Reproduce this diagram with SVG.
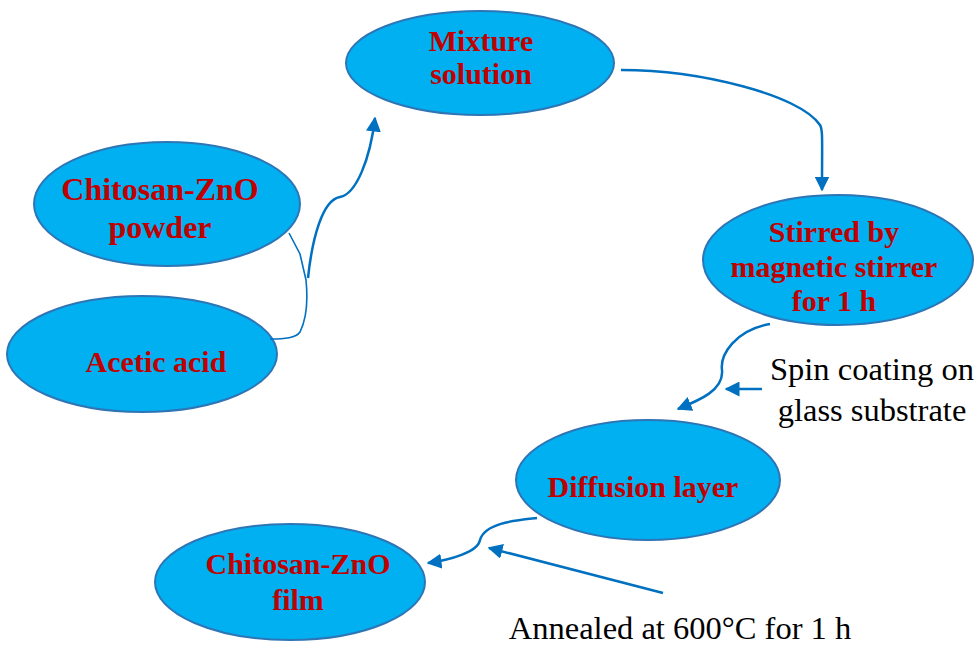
<svg xmlns="http://www.w3.org/2000/svg" width="976" height="646" viewBox="0 0 976 646">
<style>
.node ellipse{fill:#00B0F0;stroke:#2E75B6;stroke-width:2}
.lbl{font-family:"Liberation Serif","Times New Roman",serif;font-weight:bold;font-size:30px;fill:#C00000;text-anchor:middle}
.big{font-size:32px}
.note{font-family:"Liberation Serif","Times New Roman",serif;font-size:32.5px;fill:#000;text-anchor:middle}
.c{fill:none;stroke:#0070C0;stroke-width:2.5}
.thin{fill:none;stroke:#0070C0;stroke-width:1.6}
</style>
<defs>
<marker id="ah" viewBox="0 0 10 10" refX="9" refY="5" markerWidth="6" markerHeight="6" orient="auto" markerUnits="strokeWidth">
<path d="M0,0 L10,5 L0,10 z" fill="#0070C0"/>
</marker>
</defs>
<g id="mixture" class="node"><ellipse cx="480" cy="63" rx="134" ry="52"/><text class="lbl" x="481" y="51">Mixture</text><text class="lbl" x="481" y="84">solution</text></g>
<g id="powder" class="node"><ellipse cx="167" cy="204" rx="133" ry="62"/><text class="lbl big" x="160" y="200">Chitosan-ZnO</text><text class="lbl big" x="160" y="238">powder</text></g>
<g id="acetic" class="node"><ellipse cx="142" cy="354" rx="135" ry="58"/><text class="lbl" x="156" y="372">Acetic acid</text></g>
<g id="stirred" class="node"><ellipse cx="838" cy="260" rx="135" ry="65"/><text class="lbl" x="834" y="242">Stirred by</text><text class="lbl" x="834" y="277">magnetic stirrer</text><text class="lbl" x="834" y="311">for 1 h</text></g>
<g id="diffusion" class="node"><ellipse cx="648" cy="480" rx="132" ry="60"/><text class="lbl" x="643" y="497">Diffusion layer</text></g>
<g id="film" class="node"><ellipse cx="290" cy="582" rx="135" ry="58"/><text class="lbl" x="298" y="574">Chitosan-ZnO</text><text class="lbl" x="298" y="610">film</text></g>
<g id="notes">
<text class="note" x="872" y="380">Spin coating on</text>
<text class="note" x="872" y="421">glass substrate</text>
<text class="note" x="680" y="639">Annealed at 600°C for 1 h</text>
</g>
<g id="connectors">
<path class="thin" d="M289,233 L300,254 L306,280 C308,300 306,320 300,332 C296,338 285,339 270,339"/>
<path class="c" d="M308,278 C312,240 322,200 340,197 C356,194 370,160 375,118" marker-end="url(#ah)"/>
<path class="c" d="M621,70 C700,70 800,95 820,125 C823,130 822,140 822,190" marker-end="url(#ah)"/>
<path class="c" d="M770,324 C735,330 720,355 722,370 C724,390 700,400 678,409" marker-end="url(#ah)"/>
<path class="c" d="M762,389 L726,389" marker-end="url(#ah)"/>
<path class="c" d="M537,518 C520,520 485,522 480,540 C478,552 450,560 428,563" marker-end="url(#ah)"/>
<path class="c" d="M663,593 L489,548" marker-end="url(#ah)"/>
</g>
</svg>
